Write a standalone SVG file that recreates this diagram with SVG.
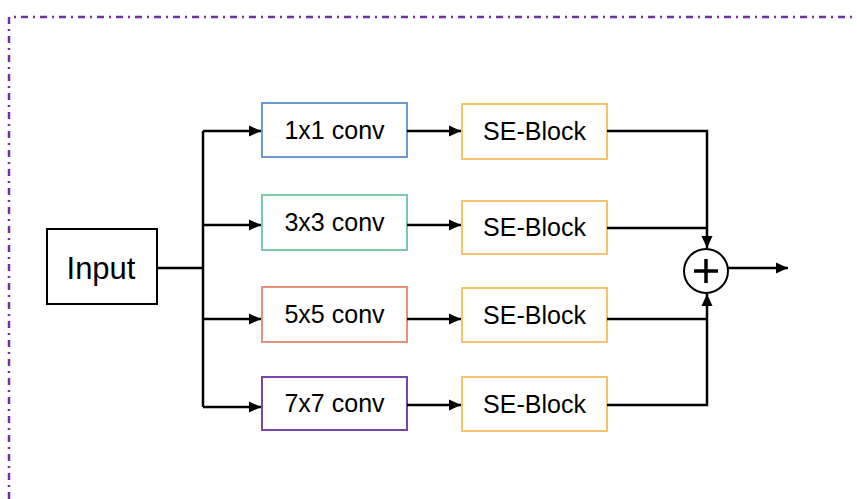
<svg xmlns="http://www.w3.org/2000/svg" width="857" height="499" viewBox="0 0 857 499">
<defs>
<marker id="ah" markerWidth="13" markerHeight="13" refX="12" refY="6.5" orient="auto" markerUnits="userSpaceOnUse">
<path d="M0,1 L12,6.5 L0,12 Z" fill="#000"/>
</marker>
<style>
.box{fill:#fff;stroke-width:2}
.lbl{font-family:"Liberation Sans",Arial,sans-serif;font-size:25px;fill:#000;text-anchor:middle}
.ln{fill:none;stroke:#000;stroke-width:2.5}
</style>
</defs>
<rect x="0" y="0" width="857" height="499" fill="#fff"/>
<path d="M9,499 L9,17 L857,17" fill="none" stroke="#7030A0" stroke-width="2.5" stroke-dasharray="7,5,2,5"/>
<g id="input"><rect class="box" x="47" y="229" width="110" height="75" stroke="#000"/><text class="lbl" x="101" y="279" style="font-size:31px">Input</text></g>
<g id="conv1"><rect class="box" x="262" y="103" width="145" height="54" stroke="#6C9BD2"/><text class="lbl" x="334.5" y="139">1x1 conv</text></g>
<g id="conv3"><rect class="box" x="262" y="195" width="145" height="55" stroke="#7CCBA8"/><text class="lbl" x="334.5" y="231">3x3 conv</text></g>
<g id="conv5"><rect class="box" x="262" y="287" width="145" height="55" stroke="#E8917A"/><text class="lbl" x="334.5" y="323">5x5 conv</text></g>
<g id="conv7"><rect class="box" x="262" y="377" width="145" height="53" stroke="#7B45A6"/><text class="lbl" x="334.5" y="412">7x7 conv</text></g>
<g id="se1"><rect class="box" x="462" y="104" width="145" height="55" stroke="#F6C26B"/><text class="lbl" x="534.5" y="140">SE-Block</text></g>
<g id="se2"><rect class="box" x="462" y="201" width="145" height="53" stroke="#F6C26B"/><text class="lbl" x="534.5" y="236">SE-Block</text></g>
<g id="se3"><rect class="box" x="462" y="288" width="145" height="54" stroke="#F6C26B"/><text class="lbl" x="534.5" y="324">SE-Block</text></g>
<g id="se4"><rect class="box" x="462" y="377" width="145" height="54" stroke="#F6C26B"/><text class="lbl" x="534.5" y="413">SE-Block</text></g>
<g id="sum"><circle cx="706" cy="271" r="22" fill="#fff" stroke="#000" stroke-width="2"/><path d="M694,271 H718 M706,259 V283" stroke="#000" stroke-width="3.5" fill="none"/></g>
<g id="connectors">
<path class="ln" d="M157,268 H203"/>
<path class="ln" d="M203,131 V407"/>
<path class="ln" d="M203,131 H261" marker-end="url(#ah)"/>
<path class="ln" d="M203,225 H261" marker-end="url(#ah)"/>
<path class="ln" d="M203,319 H261" marker-end="url(#ah)"/>
<path class="ln" d="M203,407 H261" marker-end="url(#ah)"/>
<path class="ln" d="M407,131 H461" marker-end="url(#ah)"/>
<path class="ln" d="M407,225 H461" marker-end="url(#ah)"/>
<path class="ln" d="M407,319 H461" marker-end="url(#ah)"/>
<path class="ln" d="M407,405 H461" marker-end="url(#ah)"/>
<path class="ln" d="M607,131 H707 V248" marker-end="url(#ah)"/>
<path class="ln" d="M607,228 H707"/>
<path class="ln" d="M607,319 H707"/>
<path class="ln" d="M607,405 H707 V294" marker-end="url(#ah)"/>
<path class="ln" d="M728,268 H788" marker-end="url(#ah)"/>
</g>
</svg>
